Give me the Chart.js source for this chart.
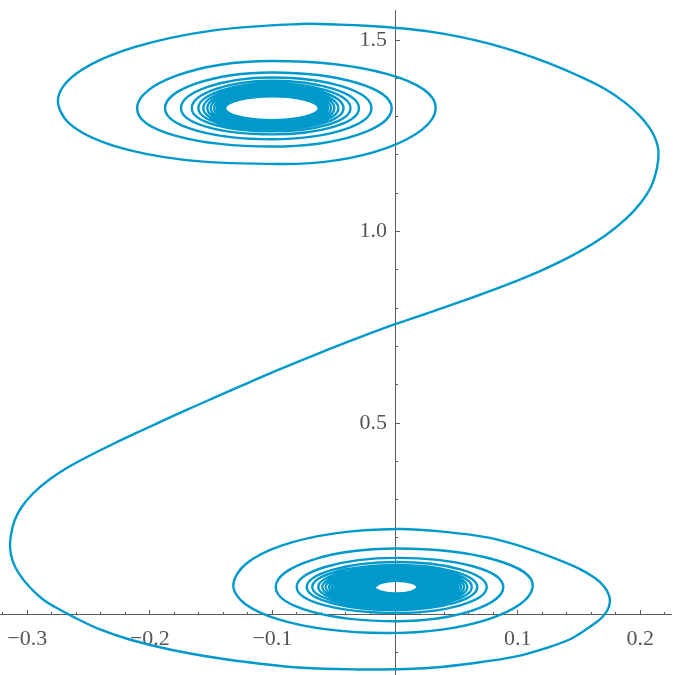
<!DOCTYPE html>
<html><head><meta charset="utf-8">
<script src="https://cdn.jsdelivr.net/npm/chart.js@4.4.1/dist/chart.umd.min.js"></script>
<style>html,body{margin:0;padding:0;background:#fff;} #wrap{width:673px;height:675px;position:relative;}</style>
</head><body><div id="wrap"><canvas id="c"></canvas></div>
<script>
// ---- tick labels ----
const xTickValues = [-0.3, -0.2, -0.1, 0.1, 0.2];
const xTickLabels = ['\u22120.3', '\u22120.2', '\u22120.1', '0.1', '0.2'];
const yTickValues = [0.5, 1.0, 1.5];
const yTickLabels = ['0.5', '1.0', '1.5'];

// ---- lower spiral (turns 1..32, outer -> inner), extremes ----
const lowCenter = [0.0013, 0.0717];
const lowRightX = [0.1123, 0.0883, 0.0748, 0.0671, 0.0626, 0.0590, 0.0563, 0.0538, 0.0516, 0.0498, 0.0481, 0.0465,
  0.0447, 0.0430, 0.0412, 0.0396, 0.0379, 0.0364, 0.0347, 0.0333, 0.0318, 0.0304, 0.0290, 0.0277, 0.0263, 0.0250,
  0.0237, 0.0226, 0.0215, 0.0203, 0.0192, 0.0182];
const lowTopY = [0.1722, 0.1479, 0.1370, 0.1297, 0.1244, 0.1205, 0.1174, 0.1148, 0.1124, 0.1104, 0.1085, 0.1067,
  0.1054, 0.1044, 0.1033, 0.1020, 0.1010, 0.0999, 0.0989, 0.0978, 0.0971, 0.0960, 0.0950, 0.0942, 0.0934, 0.0924,
  0.0916, 0.0908, 0.0900, 0.0892, 0.0887, 0.0879];
const lowLeftX = [-0.0973, -0.0802, -0.0720, -0.0675, -0.0626, -0.0593, -0.0565, -0.0538, -0.0516, -0.0495, -0.0476, -0.0457,
  -0.0437, -0.0419, -0.0400, -0.0383, -0.0365, -0.0349, -0.0332, -0.0316, -0.0300, -0.0285, -0.0270, -0.0255, -0.0241, -0.0228,
  -0.0215, -0.0202, -0.0189, -0.0178, -0.0166, -0.0155];
const lowBottomY = [-0.0175, 0.0039, 0.0117, 0.0175, 0.0214, 0.0248, 0.0277, 0.0303, 0.0324, 0.0342, 0.0360, 0.0376,
  0.0386, 0.0399, 0.0410, 0.0420, 0.0430, 0.0441, 0.0451, 0.0459, 0.0470, 0.0477, 0.0488, 0.0496, 0.0504, 0.0511,
  0.0519, 0.0527, 0.0535, 0.0543, 0.0548, 0.0556];
// bottom of the outermost lower turn, then (hidden) left extreme used only for the curve direction
const lowTailX = [-0.0082, -0.1319];
const lowTailY = [-0.0483, 0.0757];

// ---- outer path: outer lower turn, big lower loop, S, big upper loop ----
// first and last entries are hidden direction points
const bigPathX = [0.0392, -0.0082, -0.0555, -0.0957, -0.1225, -0.1319, -0.1217, -0.0926, -0.0490, 0.0024,
  0.0408, 0.0775, 0.1060, 0.1319, 0.1509, 0.1631, 0.1705, 0.1746, 0.1752, 0.1733,
  0.1692, 0.1639, 0.1533, 0.1423, 0.1223, 0.1001, 0.0653, 0.0297, 0.0000, -0.0302,
  -0.0759, -0.1117, -0.1462, -0.1819, -0.2166, -0.2406, -0.2624, -0.2773, -0.2871, -0.2977,
  -0.3067, -0.3120, -0.3140,
  -0.3132, -0.3100, -0.3042, -0.2953, -0.2830, -0.2684, -0.2504, -0.2300, -0.2080, -0.1835,
  -0.1591, -0.1264, -0.0938, -0.0612, -0.0285, 0.0000, 0.0285, 0.0612, 0.0930, 0.1223,
  0.1493, 0.1713, 0.1876, 0.1998, 0.2088, 0.2137, 0.2149,
  0.2125, 0.2080, 0.1998, 0.1876, 0.1713, 0.1509, 0.1264, 0.1020, 0.0775, 0.0530,
  0.0285, 0.0041, -0.0204, -0.0449, -0.0775, -0.1492, -0.2119, -0.2560, -0.2747, -0.2653,
  -0.2292, -0.1719, -0.1020, -0.0318];
const bigPathY = [-0.0389, -0.0483, -0.0389, -0.0120, 0.0282, 0.0757, 0.1320, 0.1798, 0.2118, 0.2231,
  0.2158, 0.2001, 0.1748, 0.1448, 0.1187, 0.0952, 0.0731, 0.0496, 0.0313, 0.0117,
  -0.0065, -0.0209, -0.0444, -0.0652, -0.0887, -0.1088, -0.1265, -0.1391, -0.1430, -0.1435,
  -0.1391, -0.1278, -0.1130, -0.0926, -0.0652, -0.0391, -0.0060, 0.0196, 0.0391, 0.0704,
  0.1070, 0.1409, 0.1748,
  0.2090, 0.2481, 0.2820, 0.3159, 0.3499, 0.3814, 0.4127, 0.4453, 0.4785, 0.5145,
  0.5497, 0.5956, 0.6405, 0.6833, 0.7240, 0.7579, 0.7889, 0.8255, 0.8630, 0.9024,
  0.9455, 0.9890, 1.0308, 1.0725, 1.1169, 1.1665, 1.2105,
  1.2413, 1.2687, 1.3013, 1.3366, 1.3720, 1.4047, 1.4383, 1.4665, 1.4900, 1.5084,
  1.5220, 1.5307, 1.5365, 1.5401, 1.5419, 1.5247, 1.4819, 1.4208, 1.3501, 1.2810,
  1.2236, 1.1871, 1.1766, 1.1818];

// ---- upper spiral (turns 1..23, outer -> inner) ----
// (hidden) left extreme of the big upper loop, then its bottom
const upHeadX = [-0.2747, -0.1020];
const upHeadY = [1.3501, 1.1766];
const upCenter = [-0.1003, 1.3219];
const upRightX = [0.0332, -0.0027, -0.0192, -0.0294, -0.0363, -0.0420, -0.0462, -0.0495, -0.0522, -0.0546, -0.0565,
  -0.0577, -0.0587, -0.0595, -0.0601, -0.0606, -0.0610, -0.0613, -0.0616, -0.0617, -0.0619, -0.0621, -0.0622];
const upTopY = [1.4453, 1.4153, 1.4023, 1.3937, 1.3874, 1.3827, 1.3788, 1.3754, 1.3723, 1.3697, 1.3676,
  1.3645, 1.3621, 1.3600, 1.3585, 1.3572, 1.3561, 1.3553, 1.3548, 1.3543, 1.3538, 1.3535, 1.3533];
const upLeftX = [-0.2104, -0.1876, -0.1746, -0.1658, -0.1604, -0.1564, -0.1531, -0.1503, -0.1476, -0.1454, -0.1436,
  -0.1425, -0.1416, -0.1409, -0.1403, -0.1399, -0.1396, -0.1392, -0.1390, -0.1388, -0.1387, -0.1386, -0.1385];
const upBottomY = [1.2218, 1.2411, 1.2536, 1.2614, 1.2666, 1.2706, 1.2739, 1.2768, 1.2794, 1.2815, 1.2833,
  1.2849, 1.2862, 1.2872, 1.2880, 1.2888, 1.2893, 1.2896, 1.2901, 1.2904, 1.2906, 1.2906, 1.2909];

// ---- build point tables ----
const lowPts = [];
for (let i = lowRightX.length - 1; i >= 0; i--) {
  lowPts.push({x: lowCenter[0], y: lowBottomY[i]});
  lowPts.push({x: lowLeftX[i], y: lowCenter[1]});
  lowPts.push({x: lowCenter[0], y: lowTopY[i]});
  lowPts.push({x: lowRightX[i], y: lowCenter[1]});
}
lowTailX.forEach((x, i) => lowPts.push({x: x, y: lowTailY[i]}));
const bigPts = bigPathX.map((x, i) => ({x: x, y: bigPathY[i]}));
const upPts = upHeadX.map((x, i) => ({x: x, y: upHeadY[i]}));
for (let i = 0; i < upRightX.length; i++) {
  upPts.push({x: upRightX[i], y: upCenter[1]});
  upPts.push({x: upCenter[0], y: upTopY[i]});
  upPts.push({x: upLeftX[i], y: upCenter[1]});
  upPts.push({x: upCenter[0], y: upBottomY[i]});
}

const X_MIN = -0.3222, X_MAX = 0.2251, Y_MIN = -0.1565, Y_MAX = 1.5784;
const AX = '#5c5c5c', TXT = '#555555', LINE = '#0099CC';
const FONT = "'Liberation Serif', 'DejaVu Serif', serif";
const lab = (vals, labels) => (v) => { const i = vals.findIndex(t => Math.abs(t - v) < 1e-6); return i >= 0 ? labels[i] : ''; };

// hidden first/last segments (they only steer the curve direction)
const hideEnds = (first, last) => ({
  borderColor: (ctx) => {
    const n = ctx.chart.data.datasets[ctx.datasetIndex].data.length;
    if (first && ctx.p0DataIndex === 0) return 'rgba(0,0,0,0)';
    if (last && ctx.p1DataIndex === n - 1) return 'rgba(0,0,0,0)';
    return undefined;
  }
});
const curve = (data, tension, first, last) => ({
  data: data, showLine: true, borderColor: LINE, borderWidth: 2.4, tension: tension,
  pointRadius: 0, pointHoverRadius: 0, fill: false, borderJoinStyle: 'round', borderCapStyle: 'butt',
  segment: hideEnds(first, last)
});

function tickScale(axis, step, len, pos, border) {
  return {
    type: 'linear', axis: axis, min: axis === 'x' ? X_MIN : Y_MIN, max: axis === 'x' ? X_MAX : Y_MAX,
    position: pos, z: 1,
    border: {display: border, color: AX, width: 1},
    grid: {display: true, drawOnChartArea: false, drawTicks: true, tickLength: len, color: AX, lineWidth: 1},
    ticks: {display: false, stepSize: step, includeBounds: false}
  };
}

new Chart(document.getElementById('c'), {
  type: 'scatter',
  data: {datasets: [
    curve(lowPts, 0.55, true, true),
    curve(bigPts, 0.35, true, true),
    curve(upPts, 0.55, true, true)
  ]},
  options: {
    responsive: true, maintainAspectRatio: false, animation: false, events: [],
    layout: {padding: {top: 10, right: 2, left: 0, bottom: 0}},
    plugins: {legend: {display: false}, tooltip: {enabled: false}},
    scales: {
      x: tickScale('x', 0.1, -5, {y: 0}, true),
      xMinor: tickScale('x', 0.02, -3, {y: 0}, false),
      y: tickScale('y', 0.5, -5, {x: 0}, true),
      yMinor: tickScale('y', 0.1, -3, {x: 0}, false),
      xLab: {
        type: 'linear', axis: 'x', min: X_MIN, max: X_MAX, position: {y: -0.0639}, z: 1,
        border: {display: false}, grid: {display: false, drawTicks: false},
        ticks: {stepSize: 0.1, includeBounds: false, autoSkip: false, maxRotation: 0, minRotation: 0, padding: 0,
          color: TXT, font: {family: FONT, size: 22, lineHeight: 0.05}, callback: lab(xTickValues, xTickLabels)}
      },
      yLab: {
        type: 'linear', axis: 'y', min: Y_MIN, max: Y_MAX, position: {x: -0.0065}, z: 1,
        border: {display: false}, grid: {display: false, drawTicks: false},
        ticks: {stepSize: 0.5, includeBounds: false, autoSkip: false, padding: 0,
          color: TXT, font: {family: FONT, size: 22, lineHeight: 0.05}, callback: lab(yTickValues, yTickLabels)}
      }
    }
  }
});
</script>
</body></html>
